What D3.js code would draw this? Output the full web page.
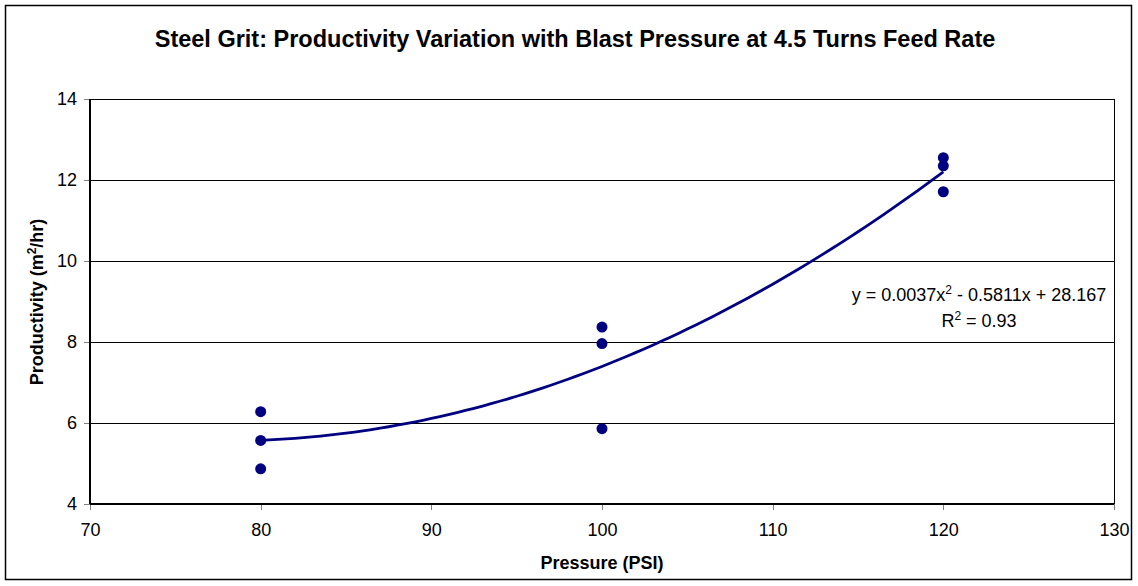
<html>
<head>
  <title>Steel Grit productivity</title>
  <script src="https://d3js.org/d3.v7.min.js"></script>
  <style>
    body { margin: 0; background: #fff; }
    text { font-family: "Liberation Sans", Arial, sans-serif; fill: #000; }
    .tick line { stroke: #808080; shape-rendering: crispEdges; }
    .tick text { font-size: 18px; }
    .domain { display: none; }
    .crisp { shape-rendering: crispEdges; }
  </style>
</head>
<body>
<script>
// data
var pressure     = [80, 80, 80, 100, 100, 100, 120, 120, 120];
var productivity = [6.28, 5.57, 4.87, 8.37, 7.96, 5.86, 12.55, 12.35, 11.71];
var xTicks = [70, 80, 90, 100, 110, 120, 130];
var yTicks = [4, 6, 8, 10, 12, 14];

var width = 1138, height = 586;
var m = { left: 90, right: 1114, top: 99, bottom: 504 };

var svg = d3.select("body").append("svg")
  .attr("width", width)
  .attr("height", height);

// chart frame
svg.append("rect")
  .attr("x", 5.5).attr("y", 5.5)
  .attr("width", 1126).attr("height", 574)
  .attr("fill", "#fff")
  .attr("stroke", "#000")
  .attr("stroke-width", 1.5);

var x = d3.scaleLinear().domain([70, 130]).range([m.left, m.right]);
var y = d3.scaleLinear().domain([4, 14]).range([m.bottom, m.top]);

// grid lines
svg.append("g").attr("class", "crisp").selectAll("line")
  .data(yTicks.filter(function(d) { return d > 4 && d < 14; }))
  .enter().append("line")
  .attr("x1", m.left).attr("x2", m.right)
  .attr("y1", function(d) { return Math.round(y(d)) + 0.5; })
  .attr("y2", function(d) { return Math.round(y(d)) + 0.5; })
  .attr("stroke", "#000");

// plot border
svg.append("rect")
  .attr("class", "crisp")
  .attr("x", m.left + 0.5).attr("y", m.top + 0.5)
  .attr("width", m.right - m.left).attr("height", m.bottom - m.top)
  .attr("fill", "none")
  .attr("stroke", "#000");

svg.append("g")
  .attr("transform", "translate(0," + m.bottom + ")")
  .call(d3.axisBottom(x).tickValues(xTicks).tickSize(6).tickPadding(13));

svg.append("g")
  .attr("transform", "translate(" + m.left + ",0)")
  .call(d3.axisLeft(y).tickValues(yTicks).tickSize(6).tickPadding(7));

// axis lines
svg.append("line")
  .attr("x1", m.left).attr("x2", m.left).attr("y1", m.top).attr("y2", m.bottom)
  .attr("stroke", "#000").attr("stroke-width", 2);
svg.append("line")
  .attr("x1", m.left).attr("x2", m.right).attr("y1", m.bottom).attr("y2", m.bottom)
  .attr("stroke", "#000").attr("stroke-width", 2);

// quadratic least squares fit
function fitQuad(xs, ys) {
  var n = xs.length, s = [0, 0, 0, 0, 0], t = [0, 0, 0];
  for (var i = 0; i < n; i++) {
    for (var k = 0; k < 5; k++) s[k] += Math.pow(xs[i], k);
    for (var k = 0; k < 3; k++) t[k] += ys[i] * Math.pow(xs[i], k);
  }
  var A = [[s[0], s[1], s[2], t[0]], [s[1], s[2], s[3], t[1]], [s[2], s[3], s[4], t[2]]];
  for (var c = 0; c < 3; c++) {
    for (var r = c + 1; r < 3; r++) {
      var f = A[r][c] / A[c][c];
      for (var k = c; k < 4; k++) A[r][k] -= f * A[c][k];
    }
  }
  var co = [0, 0, 0];
  for (var r = 2; r >= 0; r--) {
    var v = A[r][3];
    for (var k = r + 1; k < 3; k++) v -= A[r][k] * co[k];
    co[r] = v / A[r][r];
  }
  return co;
}
var co = fitQuad(pressure, productivity);
var curve = d3.range(80, 120.01, 0.5).map(function(p) {
  return [p, co[0] + co[1] * p + co[2] * p * p];
});

svg.append("path")
  .datum(curve)
  .attr("d", d3.line().x(function(d) { return x(d[0]); }).y(function(d) { return y(d[1]); }))
  .attr("fill", "none")
  .attr("stroke", "#000080")
  .attr("stroke-width", 2.8);

svg.append("g").selectAll("circle")
  .data(pressure)
  .enter().append("circle")
  .attr("cx", function(d) { return x(d); })
  .attr("cy", function(d, i) { return y(productivity[i]); })
  .attr("r", 5.5)
  .attr("fill", "#000080");

// titles
svg.append("text")
  .attr("x", 575).attr("y", 47)
  .attr("text-anchor", "middle")
  .style("font-size", "23.5px").style("font-weight", "bold")
  .text("Steel Grit: Productivity Variation with Blast Pressure at 4.5 Turns Feed Rate");

svg.append("text")
  .attr("x", 602).attr("y", 569)
  .attr("text-anchor", "middle")
  .style("font-size", "18px").style("font-weight", "bold")
  .text("Pressure (PSI)");

var yl = svg.append("text")
  .attr("transform", "translate(43,302) rotate(-90)")
  .attr("text-anchor", "middle")
  .style("font-size", "18px").style("font-weight", "bold");
yl.append("tspan").text("Productivity (m");
yl.append("tspan").attr("dy", -7).style("font-size", "12px").text("2");
yl.append("tspan").attr("dy", 7).text("/hr)");

// equation label
var eq = svg.append("text")
  .attr("x", 979).attr("y", 301)
  .attr("text-anchor", "middle")
  .style("font-size", "18px");
eq.append("tspan").text("y = 0.0037x");
eq.append("tspan").attr("dy", -7).style("font-size", "12px").text("2");
eq.append("tspan").attr("dy", 7).text(" - 0.5811x + 28.167");

var r2 = svg.append("text")
  .attr("x", 979).attr("y", 327)
  .attr("text-anchor", "middle")
  .style("font-size", "18px");
r2.append("tspan").text("R");
r2.append("tspan").attr("dy", -7).style("font-size", "12px").text("2");
r2.append("tspan").attr("dy", 7).text(" = 0.93");
</script>
</body>
</html>
